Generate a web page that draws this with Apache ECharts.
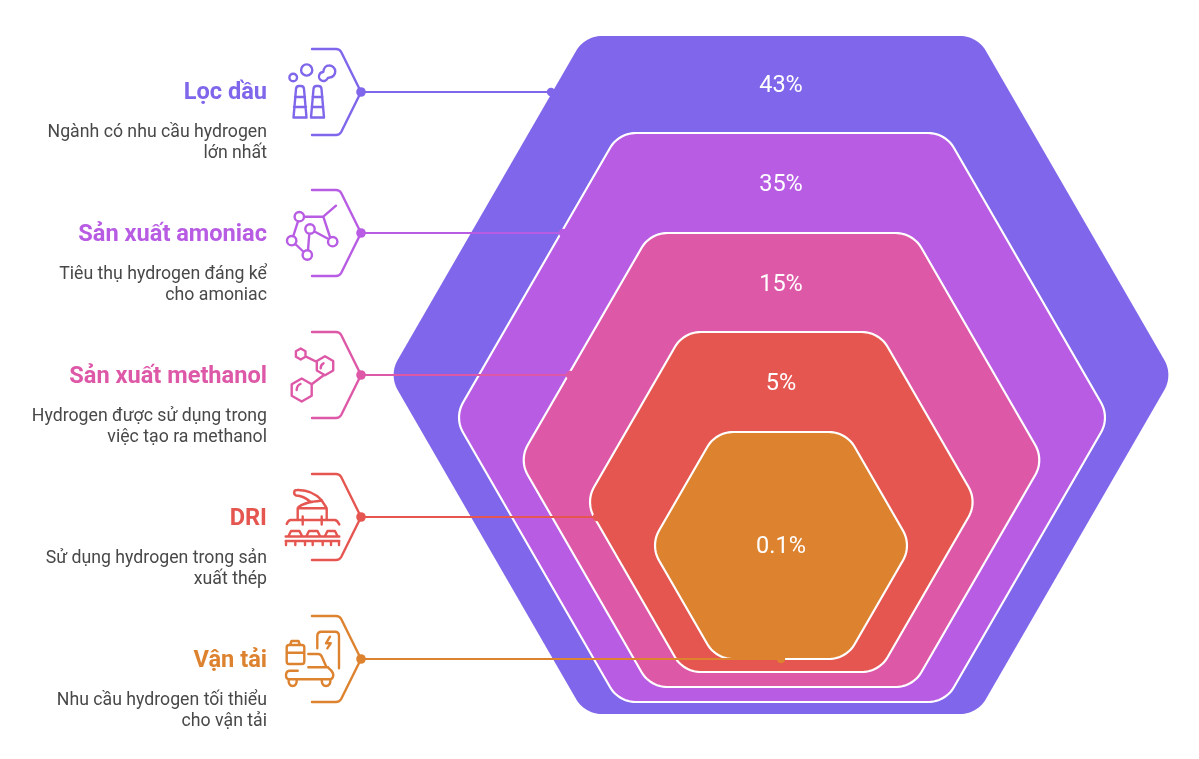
<!DOCTYPE html>
<html><head><meta charset="utf-8">
<style>html,body{margin:0;padding:0;background:#fff}#c{width:1199px;height:759px}</style>
<script src="https://cdn.jsdelivr.net/npm/echarts@6/dist/echarts.min.js"></script>
</head><body><div id="c"></div>
<script>
// ---- data ----
const categories = ['Lọc dầu','Sản xuất amoniac','Sản xuất methanol','DRI','Vận tải'];
const shares = [43,35,15,5,0.1];
const shareLabels = ['43%','35%','15%','5%','0.1%'];
const descriptions = [
 ['Ngành có nhu cầu hydrogen','lớn nhất'],
 ['Tiêu thụ hydrogen đáng kể','cho amoniac'],
 ['Hydrogen được sử dụng trong','việc tạo ra methanol'],
 ['Sử dụng hydrogen trong sản','xuất thép'],
 ['Nhu cầu hydrogen tối thiểu','cho vận tải']
];
const colors = ['#7f66ea','#b85ce4','#de58a8','#e55651','#dd822f'];

// ---- layout (pixel scale of the hidden axes) ----
const hexLayout = {cx:[781,782,781.5,781.3,781], top:[36,133,233,332,432], bottom:[714,702,687,672,659], halfW:[392,327.6,262.4,195.9,130.6], r:30};
const labelX = 781;
const labelY = [86,185,285,384,547];
const rowY = [92,233,375,517,659];
const lineEndX = [551,563,570,597,781];
const textRight = 267, bracket = {x0:312, x1:336, tipX:361, h:43};

function roundedHex(i){
  const {top,bottom,halfW,r} = hexLayout; const cx=hexLayout.cx[i];
  const t=top[i], b=bottom[i], hw=halfW[i], m=(t+b)/2, ti=hw-(b-t)/2/Math.sqrt(3);
  const V=[[cx-ti,t],[cx+ti,t],[cx+hw,m],[cx+ti,b],[cx-ti,b],[cx-hw,m]];
  const out=[]; const tan=r*Math.tan(Math.PI/6);
  V.forEach((v,k)=>{
    const p=V[(k+5)%6], n=V[(k+1)%6];
    const u=[p[0]-v[0],p[1]-v[1]], w=[n[0]-v[0],n[1]-v[1]];
    const lu=Math.hypot(...u), lw=Math.hypot(...w);
    u[0]/=lu;u[1]/=lu;w[0]/=lw;w[1]/=lw;
    const bis=[u[0]+w[0],u[1]+w[1]], lb=Math.hypot(...bis);
    const d=r/Math.sin(Math.PI/3);
    const c=[v[0]+bis[0]/lb*d, v[1]+bis[1]/lb*d];
    const s=[v[0]+u[0]*tan-c[0], v[1]+u[1]*tan-c[1]];
    const e=[v[0]+w[0]*tan-c[0], v[1]+w[1]*tan-c[1]];
    let a0=Math.atan2(s[1],s[0]), a1=Math.atan2(e[1],e[0]);
    while(a1<a0) a1+=Math.PI*2;
    for(let q=0;q<=14;q++){const a=a0+(a1-a0)*q/14; out.push([c[0]+r*Math.cos(a),c[1]+r*Math.sin(a)]);}
  });
  return out;
}

// icons: stroke outlines drawn relative to the page scale
const icons = [
 // refinery
 'M293.5 117.5L296 89Q296.3 86 299 86L301 86Q303.7 86 304 89L306.5 117.5ZM295 97H305M294 107H306'+
 'M311 117.5L313.5 89Q313.8 86 316.5 86L318.5 86Q321.2 86 321.5 89L324 117.5ZM312.5 97H322.5M311.7 107H323.3'+
 'M297 77.5A3.8 3.8 0 1 1 289.4 77.5A3.8 3.8 0 1 1 297 77.5ZM312.3 70A5.6 5.6 0 1 1 301.1 70A5.6 5.6 0 1 1 312.3 70Z'+
 'M323.3 72C323.6 68 326 65.5 329 65.5A6 6 0 0 1 329.5 77.5C328 77.5 327.7 78 327.5 78.5A4.5 4.5 0 1 1 323.3 72Z',
 // network
 'M304 216.700A4.7 4.7 0 1 1 294.6 216.700A4.7 4.7 0 1 1 304 216.700ZM314.700 229A4.7 4.7 0 1 1 305.300 229A4.7 4.7 0 1 1 314.700 229Z'+
 'M337.400 241.700A4.7 4.700 0 1 1 328 241.700A4.7 4.7 0 1 1 337.400 241.700ZM296.400 240.700A4.7 4.7 0 1 1 287 240.700A4.7 4.7 0 1 1 296.400 240.700Z'+
 'M312 255A4.7 4.7 0 1 1 302.600 255A4.7 4.7 0 1 1 312 255Z'+
 'M304 216.700H323.300L336 205.700M323.300 216.700L330 237M314.500 231.500L328.500 239M309.300 233.700L308 250.300M298 221.300L293.300 236M295.300 244L303.700 252',
 // hex rings
 'M300.700 348.500L305.500 351.250V356.750L300.700 359.500L295.900 356.750V351.250Z'+
 'M325 356.200L333.200 360.950V370.450L325 375.200L316.800 370.450V360.950Z'+
 'M301.700 378.500L311.700 384.250V395.750L301.700 401.500L291.700 395.750V384.250Z'+
 'M306 356.700L317 362M324 375L311.700 384.300M320.700 368.300Q320.700 364.500 323.500 363.300M296.700 390Q296.700 385.500 300.500 384',
 // DRI
 'M294.300 491.700Q294.500 490 297 490Q312 489.500 322 500.500Q315 502 310 501.500Q304 496 296 495.500Q293.500 494 294.300 491.700Z'+
 'M298.500 507Q304 503 313 501.700M322 501L326 507M297.700 508.300H326.700M297.700 508.300V520M326.700 508.300V520'+
 'M286.700 524Q288 520.500 290.500 520H335Q337.500 520.500 339.300 524.500M302.700 516.500V524.500M321.700 516.500V524.500'+
 'M288.500 536L291 531H299.500L302 536M306.500 536L309 531H317.500L320 536M325 536L327.500 531H335L337.500 536M285.700 536.500H339.300'+
 'M285.700 541H339.300M286 541V545M295.300 541V545M305 541V545M312.700 541V545M322.700 541V545M331 541V545M339 541V545',
 // transport
 'M289 645H302Q304.300 645 304.300 647.500V661.500Q304.300 664 302 664H289Q286.700 664 286.700 661.500V647.500Q286.700 645 289 645Z'+
 'M290 645L291.500 641H298.500L300 645M286.700 652.700H304.300'+
 'M317.300 648.300V636Q317.300 631.700 321.500 631.700H335Q339 631.700 339 636V668.300M330 636.700L326 643.300H330.700L327.300 648.300'+
 'M308.300 654H318Q321 654 322 657L326.500 667.300M308.300 667.300H328'+
 'M297.700 670.700H289.500Q286 671 286 675.500Q286 679.300 290 679.300H329Q333.300 679.300 333.300 675Q333 671.500 328.500 668'+
 'M288.500 679.500Q288.500 686 292.700 686Q296.800 686 296.800 679.500M321.700 679.500Q321.700 686 326 686Q330.500 686 330.500 679.500'
];

const font = 'Roboto';
const coordOf = (api,x,y)=>api.coord([x,y]);

const hexSeries = {
  type:'custom', name:'share', silent:true, clip:false, z:2,
  encode:{x:0,y:1},
  data: shares.map((v,i)=>[labelX, labelY[i], v]),
  renderItem(params,api){
    const i=params.dataIndex;
    const p=coordOf(api,api.value(0),api.value(1));
    return {type:'group',children:[
      {type:'polygon',z2:i*2,shape:{points:roundedHex(i).map(q=>coordOf(api,q[0],q[1]))},
       style:i===0?{fill:colors[0]}:{fill:colors[i],stroke:'#ffffff',lineWidth:2.2}},
      {type:'text',z2:i*2+1,x:p[0],y:p[1],style:{text:shareLabels[i],fill:'#ffffff',font:'400 23.5px '+font,align:'center',verticalAlign:'middle'}}
    ]};
  }
};

const rowSeries = {
  type:'custom', name:'rows', silent:true, clip:false, z:3,
  encode:{x:0,y:1},
  data: categories.map((c,i)=>[lineEndX[i],rowY[i]]),
  renderItem(params,api){
    const i=params.dataIndex, col=colors[i];
    const end=coordOf(api,api.value(0),api.value(1));
    const tip=coordOf(api,bracket.tipX,rowY[i]);
    const y=tip[1], h=bracket.h, x0=bracket.x0, x1=bracket.x1;
    const lineStyle={stroke:col,lineWidth:2.4,fill:null,lineCap:'round',lineJoin:'round'};
    const dy=i===0?0:0.8;
    return {type:'group',children:[
      {type:'line',shape:{x1:tip[0],y1:y,x2:end[0],y2:end[1]},style:{stroke:col,lineWidth:2}},
      {type:'circle',shape:{cx:end[0],cy:end[1],r:4.2},style:{fill:col}},
      {type:'path',shape:{pathData:`M${x0} ${y-h}H${x1}Q${x1+3.5} ${y-h} ${x1+5.2} ${y-h+3}L${tip[0]} ${y}L${x1+5.2} ${y+h-3}Q${x1+3.5} ${y+h} ${x1} ${y+h}H${x0}`},
       style:lineStyle},
      {type:'circle',shape:{cx:tip[0],cy:y,r:4.8},style:{fill:col}},
      {type:'path',shape:{pathData:icons[i]},style:lineStyle},
      {type:'text',x:textRight,y:y+1+dy,style:{text:categories[i],fill:col,font:'700 23.6px '+font,align:'right',verticalAlign:'middle'}},
      {type:'text',x:textRight,y:y+41+dy,style:{text:descriptions[i][0],fill:'#484848',font:'400 17.7px '+font,align:'right',verticalAlign:'middle'}},
      {type:'text',x:textRight,y:y+62+dy,style:{text:descriptions[i][1],fill:'#484848',font:'400 17.7px '+font,align:'right',verticalAlign:'middle'}}
    ]};
  }
};

const chart = echarts.init(document.getElementById('c'),null,{width:1199,height:759});
chart.setOption({
  animation:false, backgroundColor:'#ffffff', tooltip:{show:false},
  grid:{left:0,right:0,top:0,bottom:0},
  xAxis:{type:'value',min:0,max:1199,show:false},
  yAxis:{type:'value',min:0,max:759,inverse:true,show:false},
  series:[hexSeries,rowSeries]
});
</script></body></html>
